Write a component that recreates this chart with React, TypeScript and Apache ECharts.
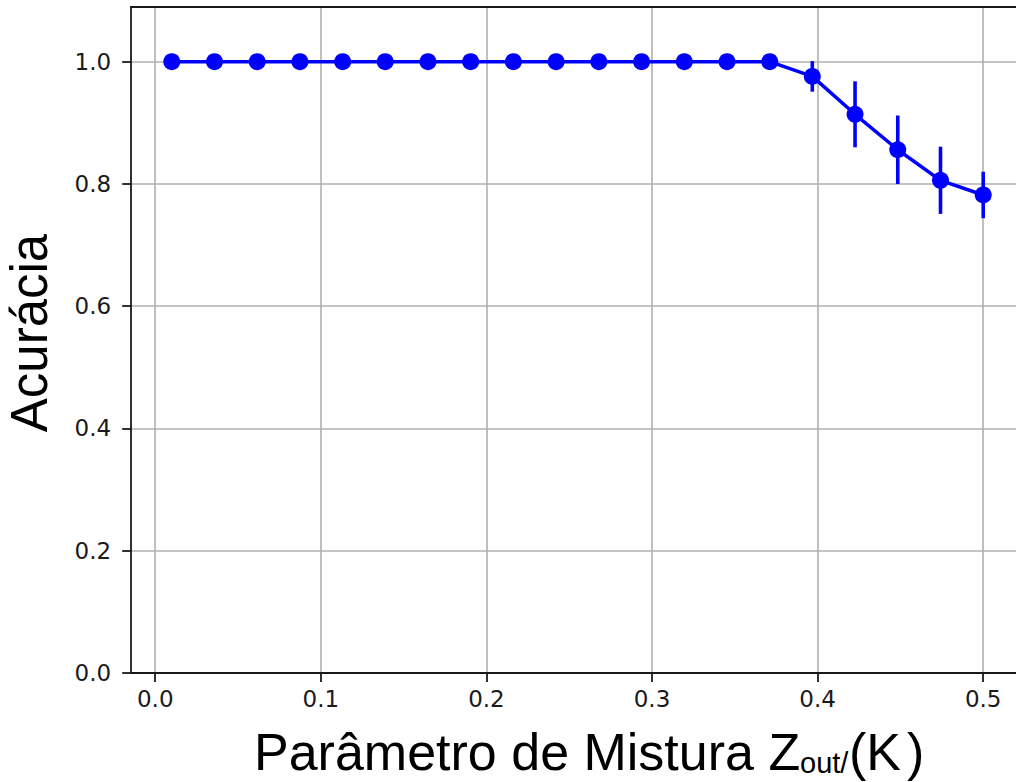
import React, { useEffect, useRef } from "react";
import * as echarts from "echarts";

const xValues = [0.01, 0.0358, 0.0616, 0.0874, 0.1132, 0.1389, 0.1647, 0.1905, 0.2163, 0.2421, 0.2679, 0.2937, 0.3195, 0.3453, 0.3711, 0.3968, 0.4226, 0.4484, 0.4742, 0.5];
const accuracy = [1, 1, 1, 1, 1, 1, 1, 1, 1, 1, 1, 1, 1, 1, 1, 0.976, 0.914, 0.856, 0.806, 0.782];
const errors = [0, 0, 0, 0, 0, 0, 0, 0, 0, 0, 0, 0, 0, 0, 0, 0.025, 0.054, 0.056, 0.055, 0.038];
const xTicks = [0, 0.1, 0.2, 0.3, 0.4, 0.5];
const yTicks = [0, 0.2, 0.4, 0.6, 0.8, 1.0];
const yLabel = "Acurácia";
const xLabelMain = "Parâmetro de Mistura Z";
const xLabelSub = "out/";

export default function App() {
  const ref = useRef<HTMLDivElement>(null);
  useEffect(() => {
    if (!ref.current) return;
    const chart = echarts.init(ref.current, undefined, { renderer: "svg" });
    const pts = xValues.map((x, i) => [x, accuracy[i]]);
    const errData = xValues.map((x, i) => [x, accuracy[i], errors[i]]);
    const axisColor = "#1a1a1a";
    const tickFont = { fontFamily: "DejaVu Sans", fontSize: 23, color: "#1a1a1a" };
    chart.setOption({
      animation: false,
      backgroundColor: "#ffffff",
      grid: { left: 131.2, right: 0, top: 6.7, bottom: 109, containLabel: false },
      xAxis: [
        {
          type: "value",
          min: -0.0145,
          max: 0.5198,
          axisLine: { show: true, onZero: false, lineStyle: { color: axisColor, width: 1.8 } },
          axisTick: { show: true, customValues: xTicks, length: 9, inside: false, lineStyle: { color: axisColor, width: 1.8 } },
          axisLabel: { show: true, customValues: xTicks, margin: 14, formatter: (v: number) => v.toFixed(1), ...tickFont },
          splitLine: { show: true, lineStyle: { color: "#b0b0b0", width: 1.6 } },
        },
        {
          type: "value",
          position: "top",
          min: -0.0145,
          max: 0.5198,
          axisLine: { show: true, onZero: false, lineStyle: { color: axisColor, width: 1.8 } },
          axisTick: { show: false },
          axisLabel: { show: false },
          splitLine: { show: false },
        },
      ],
      yAxis: {
        type: "value",
        min: 0,
        max: 1.09,
        axisLine: { show: true, onZero: false, lineStyle: { color: axisColor, width: 1.8 } },
        axisTick: { show: true, customValues: yTicks, length: 9, inside: false, lineStyle: { color: axisColor, width: 1.8 } },
        axisLabel: { show: true, customValues: yTicks, margin: 20, formatter: (v: number) => v.toFixed(1), ...tickFont },
        splitLine: { show: true, lineStyle: { color: "#b0b0b0", width: 1.6 } },
      },
      series: [
        {
          type: "custom",
          xAxisIndex: 0,
          yAxisIndex: 0,
          data: errData,
          encode: { x: 0, y: 1 },
          z: 3,
          renderItem: (params: any, api: any) => {
            const x = api.value(0);
            const y = api.value(1);
            const e = api.value(2);
            if (!e) return null;
            const p1 = api.coord([x, y - e]);
            const p2 = api.coord([x, y + e]);
            return {
              type: "line",
              shape: { x1: p1[0], y1: p1[1], x2: p2[0], y2: p2[1] },
              style: { stroke: "#0000ff", lineWidth: 3.6 },
            };
          },
        },
        {
          type: "line",
          xAxisIndex: 0,
          yAxisIndex: 0,
          data: pts,
          symbol: "circle",
          symbolSize: 17,
          showAllSymbol: true,
          z: 4,
          lineStyle: { color: "#0000ff", width: 3.5 },
          itemStyle: { color: "#0000ff" },
        },
      ],
      graphic: [
        {
          type: "text",
          x: 29,
          y: 333,
          rotation: Math.PI / 2,
          style: {
            text: yLabel,
            fontFamily: "Liberation Sans",
            fontSize: 51,
            fill: "#000",
            align: "center",
            verticalAlign: "middle",
          },
        },
        {
          type: "text",
          x: 254,
          y: 752,
          style: {
            text: xLabelMain,
            fontFamily: "Liberation Sans",
            fontSize: 52,
            fill: "#000",
            align: "left",
            verticalAlign: "middle",
          },
        },
        {
          type: "text",
          x: 800,
          y: 763,
          style: {
            text: xLabelSub,
            fontFamily: "Liberation Sans",
            fontSize: 29,
            fill: "#000",
            align: "left",
            verticalAlign: "middle",
          },
        },
        {
          type: "text",
          x: 849,
          y: 752,
          style: { text: "(K", fontFamily: "Liberation Sans", fontSize: 52, fill: "#000", align: "left", verticalAlign: "middle" },
        },
        {
          type: "text",
          x: 907,
          y: 752,
          style: { text: ")", fontFamily: "Liberation Sans", fontSize: 52, fill: "#000", align: "left", verticalAlign: "middle" },
        },
      ],
    });
    return () => chart.dispose();
  }, []);
  return (
    <div
      ref={ref}
      style={{ position: "fixed", left: 0, top: 0, width: 1016, height: 782, background: "#fff" }}
    />
  );
}
